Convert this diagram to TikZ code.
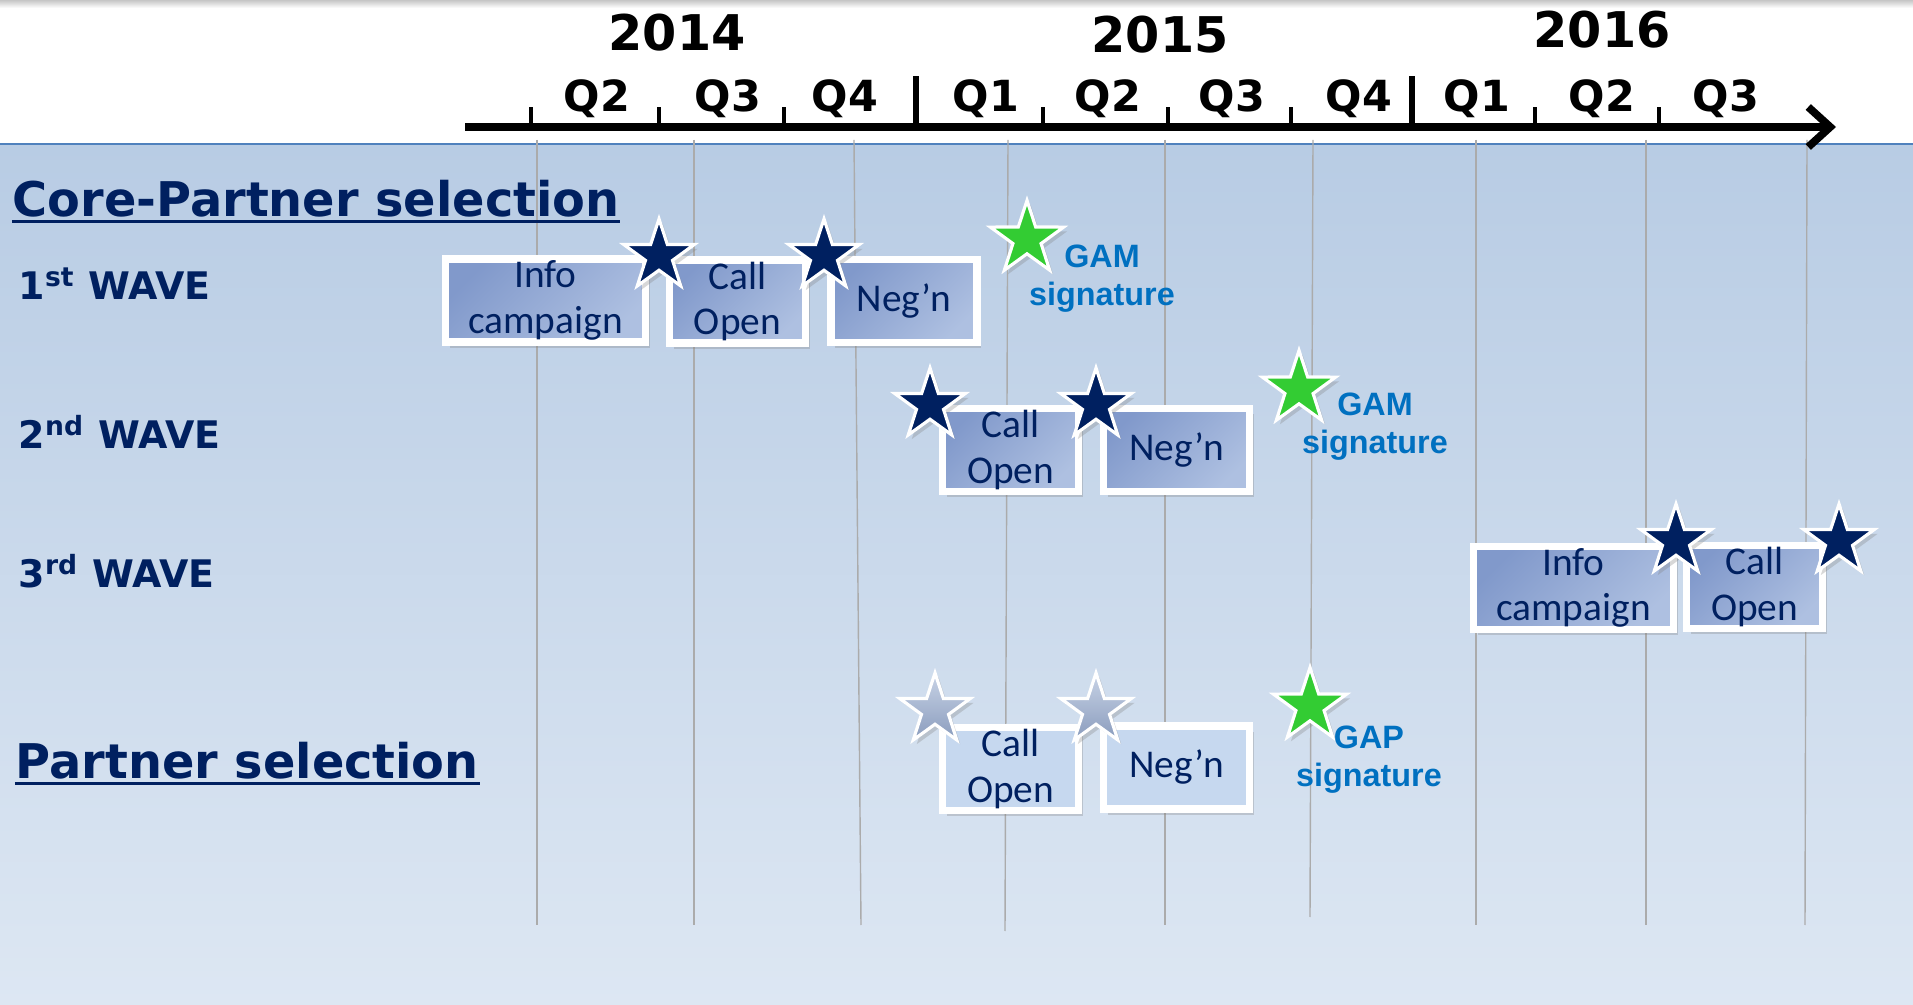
\documentclass[tikz,border=0pt]{standalone}
\usepackage{fontspec}
\setmainfont{Carlito}
\newfontfamily\tahfont{DejaVu Sans}
\newfontfamily\arialfont{Liberation Sans}
\usetikzlibrary{arrows.meta,shapes.geometric,shadows}
\definecolor{NavyClr}{rgb}{0,0.125,0.376}
\definecolor{SignClr}{rgb}{0,0.439,0.753}
\definecolor{GreenClr}{rgb}{0.2,0.8,0.2}
\definecolor{BoxClrA}{HTML}{8199CB}
\definecolor{BoxClrB}{HTML}{AEC0E1}
\definecolor{PaleClr}{HTML}{C6D8EF}
\definecolor{PStarClrA}{HTML}{C8D3E6}
\definecolor{PStarClrB}{HTML}{8A9CBD}
\definecolor{BackClrA}{HTML}{B8CCE4}
\definecolor{BackClrB}{HTML}{DDE7F3}
\definecolor{GridClr}{HTML}{ABABAB}
\definecolor{EdgeClr}{HTML}{4F81BD}

\begin{document}
\begin{tikzpicture}[
  phasebox/.style={draw=white,line width=2pt,inner sep=0pt,align=center,
    text=NavyClr,font=\fontsize{11.2}{13}\selectfont,minimum height=0.83cm,
    drop shadow={shadow xshift=1.2pt,shadow yshift=-1.6pt,opacity=0.3}},
  wavebox/.style={phasebox,top color=BoxClrA,bottom color=BoxClrB,shading angle=45},
  palebox/.style={phasebox,fill=PaleClr},
  mstar/.style={star,star points=5,star point ratio=2.6,minimum size=0.74cm,
    inner sep=0pt,draw=white,line width=0.9pt,fill=NavyClr,
    drop shadow={shadow xshift=1pt,shadow yshift=-1.2pt,opacity=0.3}},
  gstar/.style={mstar,fill=GreenClr,minimum size=0.77cm},
  pstar/.style={mstar,top color=PStarClrA,bottom color=PStarClrB},
  qlabel/.style={font=\tahfont\bfseries\fontsize{12.2}{14}\selectfont,inner sep=0pt},
  ylabel/.style={font=\tahfont\bfseries\fontsize{14}{16}\selectfont,inner sep=0pt},
  titlelabel/.style={font=\tahfont\bfseries\fontsize{13.6}{16}\selectfont,
    text=NavyClr,inner sep=0pt,anchor=base west},
  wlabel/.style={font=\tahfont\bfseries\fontsize{10.8}{13}\selectfont,
    text=NavyClr,inner sep=0pt,anchor=base west},
  signlabel/.style={font=\arialfont\bfseries\fontsize{9.2}{10.8}\selectfont,
    text=SignClr,align=center,inner sep=0pt},
  gridline/.style={GridClr,line width=0.4pt}
]
\useasboundingbox (0,0) rectangle (19.13,-10.05);

% background
\fill[white] (0,0) rectangle (19.13,-1.44);
\shade[top color=gray!45,bottom color=white] (0,0) rectangle (19.13,-0.08);
\shade[top color=BackClrA,bottom color=BackClrB] (0,-1.44) rectangle (19.13,-10.05);
\draw[EdgeClr,line width=0.7pt] (0,-1.44) -- (19.13,-1.44);

% quarter grid
\foreach \xa/\xb/\yb in {5.37/5.37/9.25,6.94/6.94/9.25,8.54/8.61/9.25,
  10.08/10.05/9.31,11.65/11.65/9.25,13.13/13.10/9.17,14.76/14.76/9.25,
  16.46/16.46/9.25,18.07/18.05/9.25}
  \draw[gridline] (\xa,-1.40) -- (\xb,-\yb);

% time axis
\coordinate (axisL) at (4.65,-1.27);
\coordinate (axisR) at (18.36,-1.27);
\draw[line width=2.2pt,-{Straight Barb[length=0.22cm,width=0.40cm]}] (axisL) -- (axisR);
\foreach \x in {5.31,6.59,7.84,10.43,11.68,12.91,15.35,16.59}
  \draw[line width=1pt] (\x,-1.27) -- (\x,-1.07);
\foreach \x in {9.16,14.12}
  \draw[line width=1.5pt] (\x,-1.27) -- (\x,-0.76);

\node[ylabel] (y14) at (6.77,-0.33) {2014};
\node[ylabel] (y15) at (11.60,-0.35) {2015};
\node[ylabel] (y16) at (16.02,-0.30) {2016};

\foreach \x/\q/\n in {5.97/Q2/q14b,7.28/Q3/q14c,8.45/Q4/q14d,9.86/Q1/q15a,
  11.08/Q2/q15b,12.32/Q3/q15c,13.59/Q4/q15d,14.77/Q1/q16a,16.02/Q2/q16b,17.26/Q3/q16c}
  \node[qlabel] (\n) at (\x,-0.99) {\q};

% row titles
\node[titlelabel] (core) at (0.12,-2.17) {Core-Partner selection};
\draw[NavyClr,line width=0.9pt] ([yshift=-1.3pt]core.base west) -- ([yshift=-1.3pt]core.base east);
\node[wlabel] (wave1) at (0.18,-3.00) {1\textsuperscript{st} WAVE};
\node[wlabel] (wave2) at (0.18,-4.49) {2\textsuperscript{nd} WAVE};
\node[wlabel] (wave3) at (0.18,-5.88) {3\textsuperscript{rd} WAVE};
\node[titlelabel] (part) at (0.15,-7.79) {Partner selection};
\draw[NavyClr,line width=0.9pt] ([yshift=-1.3pt]part.base west) -- ([yshift=-1.3pt]part.base east);

% phases
\node[wavebox,minimum width=2.00cm] (info1) at (5.455,-3.005) {Info\\campaign};
\node[wavebox,minimum width=1.36cm] (call1) at (7.375,-3.015) {Call\\Open};
\node[wavebox,minimum width=1.46cm] (neg1) at (9.04,-3.01) {Neg’n};

\node[wavebox,minimum width=1.36cm] (call2) at (10.105,-4.50) {Call\\Open};
\node[wavebox,minimum width=1.46cm] (neg2) at (11.765,-4.50) {Neg’n};

\node[wavebox,minimum width=2.00cm] (info3) at (15.735,-5.88) {Info\\campaign};
\node[wavebox,minimum width=1.36cm] (call3) at (17.545,-5.87) {Call\\Open};

\node[palebox,minimum width=1.36cm] (callp) at (10.105,-7.69) {Call\\Open};
\node[palebox,minimum width=1.46cm] (negp) at (11.765,-7.675) {Neg’n};

% milestones
\node[mstar] (s1a) at (6.59,-2.56) {};
\node[mstar] (s1b) at (8.24,-2.56) {};
\node[gstar] (g1) at (10.27,-2.39) {};
\node[mstar] (s2a) at (9.30,-4.05) {};
\node[mstar] (s2b) at (10.96,-4.05) {};
\node[gstar] (g2) at (12.99,-3.89) {};
\node[mstar] (s3a) at (16.76,-5.41) {};
\node[mstar] (s3b) at (18.39,-5.41) {};
\node[pstar] (spa) at (9.35,-7.10) {};
\node[pstar] (spb) at (10.96,-7.10) {};
\node[gstar] (gp) at (13.10,-7.06) {};

\node[signlabel] (gam1) at (11.02,-2.79) {GAM\\signature};
\node[signlabel] (gam2) at (13.75,-4.27) {GAM\\signature};
\node[signlabel] (gap) at (13.69,-7.60) {GAP\\signature};

\end{tikzpicture}
\end{document}
